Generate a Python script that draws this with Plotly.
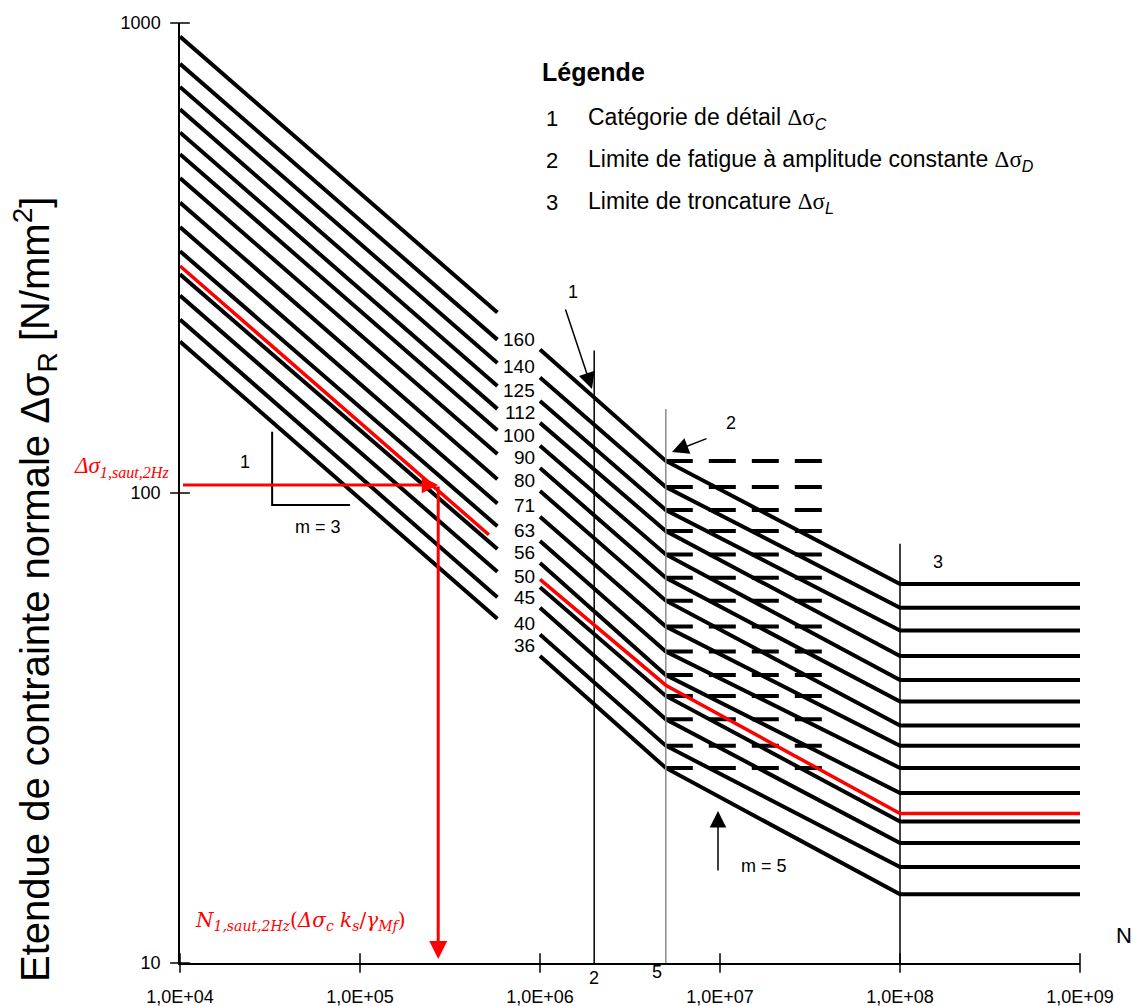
import math
import plotly.graph_objects as go

# ---------------- data ----------------
categories = [160, 140, 125, 112, 100, 90, 80, 71, 63, 56, 50, 45, 40, 36]
ds_at_1e4 = [936, 819, 731, 655, 585, 526, 468, 415, 368, 327, 292, 263, 234, 210]
ds_end_seg1 = [242, 212, 189, 169, 151, 136, 121, 107, 95, 85, 76, 68, 60, 54]      # at N = 5.8e5
ds_start_seg2 = [202, 176, 157, 141, 126, 113, 101, 89, 79, 71, 63, 57, 50, 45]    # at N = 1e6
ds_D = [117, 103, 92, 83, 74, 66, 59, 52, 46, 41, 37, 33, 29, 26]                 # at N = 5e6
ds_L = [64, 57, 51, 45, 40, 36, 32, 29, 26, 23, 20, 18, 16, 14]                   # at N >= 1e8

N_points = [1e4, 5.8e5, None, 1e6, 5e6, 1e8, 1e9]
N_dash = [5e6, 3.8e7]

red_N = [1e4, 5.2e5, None, 1e6, 5e6, 1e8, 1e9]
red_ds = [304, 81.5, None, 65.5, 39, 20.8, 20.8]
red_saut_ds = 104
red_saut_N = 2.72e5

ref_N = [2e6, 5e6, 1e8]
ref_top = [201, 151, 78]
ref_colors = ["black", "#8c8c8c", "black"]

slope_N = [3.25e4, 3.25e4, 8.8e4]
slope_ds = [135, 94.3, 94.3]

x_tickvals = [1e4, 1e5, 1e6, 1e7, 1e8, 1e9]
x_ticktext = ["1,0E+04", "1,0E+05", "1,0E+06", "1,0E+07", "1,0E+08", "1,0E+09"]
y_tickvals = [10, 100, 1000]
y_ticktext = ["10", "100", "1000"]

# ---------------- figure ----------------
# the page body has an 8px margin, so the figure is shifted to compensate
OFF = 8
L, T, W, H = 180, 23, 900, 940          # plot area in screen pixels
def px(x):
    return (x - L) / W
def py(y):
    return (T + H - y) / H

SANS = "Liberation Sans, Arial, sans-serif"
SERIF = "Liberation Serif, Times New Roman, serif"

fig = go.Figure()

for i, c in enumerate(categories):
    ys = [ds_at_1e4[i], ds_end_seg1[i], None, ds_start_seg2[i], ds_D[i], ds_L[i], ds_L[i]]
    fig.add_trace(go.Scatter(x=N_points, y=ys, mode="lines",
                             line=dict(color="black", width=4), connectgaps=False,
                             name=str(c), hoverinfo="skip"))
    fig.add_trace(go.Scatter(x=N_dash, y=[ds_D[i], ds_D[i]], mode="lines",
                             line=dict(color="black", width=4, dash="27px,16px"),
                             hoverinfo="skip"))

for n, top, col in zip(ref_N, ref_top, ref_colors):
    fig.add_trace(go.Scatter(x=[n, n], y=[top, 10], mode="lines",
                             line=dict(color=col, width=1.5), hoverinfo="skip"))

fig.add_trace(go.Scatter(x=slope_N, y=slope_ds, mode="lines",
                         line=dict(color="black", width=2), hoverinfo="skip"))

fig.add_trace(go.Scatter(x=red_N, y=red_ds, mode="lines", connectgaps=False,
                         line=dict(color="#ff0000", width=3.5), hoverinfo="skip"))

# crossing tick marks
fig.add_trace(go.Scatter(x=x_tickvals, y=[10] * len(x_tickvals), mode="markers",
                         marker=dict(symbol="line-ns", size=14, line=dict(color="black", width=1.5)),
                         cliponaxis=False, hoverinfo="skip"))
fig.add_trace(go.Scatter(x=[1e4] * len(y_tickvals), y=y_tickvals, mode="markers",
                         marker=dict(symbol="line-ew", size=14, line=dict(color="black", width=1.5)),
                         cliponaxis=False, hoverinfo="skip"))

ann = []
# category labels in the gap
for i, c in enumerate(categories):
    ymid = (math.log10(ds_end_seg1[i]) + math.log10(ds_start_seg2[i])) / 2
    ann.append(dict(x=px(537), xref="paper", y=ymid, yref="y", text=str(c),
                    showarrow=False, xanchor="right", yanchor="middle", yshift=-8,
                    font=dict(family=SANS, size=19, color="black")))

# red arrows
ann.append(dict(x=math.log10(red_saut_N), y=math.log10(red_saut_ds), xref="x", yref="y",
                ax=math.log10(1.02e4), ay=math.log10(red_saut_ds), axref="x", ayref="y",
                text="", showarrow=True, arrowhead=2, arrowsize=1.1, arrowwidth=3,
                arrowcolor="#ff0000"))
ann.append(dict(x=math.log10(red_saut_N), y=math.log10(10.2), xref="x", yref="y",
                ax=math.log10(red_saut_N), ay=math.log10(red_saut_ds), axref="x", ayref="y",
                text="", showarrow=True, arrowhead=2, arrowsize=1.2, arrowwidth=3,
                arrowcolor="#ff0000"))

# black arrows
def arrow(hx, hy, tx, ty, size=2.2):
    return dict(x=px(hx), y=py(hy), xref="paper", yref="paper", ax=tx - hx, ay=ty - hy,
                text="", showarrow=True, arrowhead=2, arrowsize=size, arrowwidth=1.5,
                arrowcolor="black")
ann.append(arrow(592, 389, 565, 308))
ann.append(arrow(672, 452, 708, 438))
ann.append(arrow(718, 811, 718, 872))

def label(x, y, text, size=18, color="black", family=SANS, xanchor="center"):
    return dict(x=px(x), y=py(y), xref="paper", yref="paper", text=text, showarrow=False,
                xanchor=xanchor, yanchor="middle", font=dict(family=family, size=size, color=color))

ann += [
    label(573, 292, "1"), label(731, 423, "2"), label(938, 562, "3"),
    label(764, 866, "m = 5"), label(245, 462, "1"), label(318, 527, "m = 3"),
    label(594, 978, "2"), label(657, 972, "5"), label(1124, 935, "N", size=22),
]

# legend block
ann.append(label(540, 72, "<b>Légende</b>", size=25, xanchor="left"))
legend_rows = [
    ("1", "Catégorie de détail <span style=\"font-family:Liberation Serif\">Δσ</span><sub><i>C</i></sub>"),
    ("2", "Limite de fatigue à amplitude constante <span style=\"font-family:Liberation Serif\">Δσ</span><sub><i>D</i></sub>"),
    ("3", "Limite de troncature <span style=\"font-family:Liberation Serif\">Δσ</span><sub><i>L</i></sub>"),
]
for k, (num, txt) in enumerate(legend_rows):
    yy = 118 + 42 * k
    ann.append(label(552, yy, num, size=22))
    ann.append(label(586, yy, txt, size=23, xanchor="left"))

# red labels
ann.append(label(171, 467, "<i>Δσ<sub>1,saut,2Hz</sub></i>", size=23, color="#ff0000",
                 family=SERIF, xanchor="right"))
ann.append(label(193, 921, "<i>N<sub>1,saut,2Hz</sub></i>(<i>Δσ<sub>c</sub> k<sub>s</sub></i>/<i>γ<sub>Mf</sub></i>)",
                 size=20, color="#ff0000", family="DejaVu Serif, serif", xanchor="left"))

# y title
ann.append(dict(x=px(35), y=py(590), xref="paper", yref="paper", showarrow=False,
                text="Etendue de contrainte normale Δσ<sub>R</sub> [N/mm<sup>2</sup>]",
                textangle=-90, xanchor="center", yanchor="middle",
                font=dict(family=SANS, size=40, color="black")))

FIG_W, FIG_H = 1142, 1006
fig.update_layout(
    width=FIG_W, height=FIG_H,
    margin=dict(l=L - OFF, r=FIG_W - (L - OFF) - W, t=T - OFF, b=FIG_H - (T - OFF) - H,
                autoexpand=False),
    paper_bgcolor="white", plot_bgcolor="white",
    showlegend=False,
    annotations=ann,
    xaxis=dict(type="log", range=[4, 9], showline=True, linecolor="black", linewidth=1.5,
               showgrid=False, zeroline=False, tickvals=x_tickvals, ticktext=x_ticktext,
               ticks="outside", ticklen=17, tickcolor="rgba(0,0,0,0)", automargin=False,
               tickfont=dict(family=SANS, size=18, color="black")),
    yaxis=dict(type="log", range=[1, 3], showline=True, linecolor="black", linewidth=1.5,
               showgrid=False, zeroline=False, tickvals=y_tickvals, ticktext=y_ticktext,
               ticks="outside", ticklen=14, tickcolor="rgba(0,0,0,0)", automargin=False,
               tickfont=dict(family=SANS, size=18, color="black")),
)

fig.write_html("out.html")
